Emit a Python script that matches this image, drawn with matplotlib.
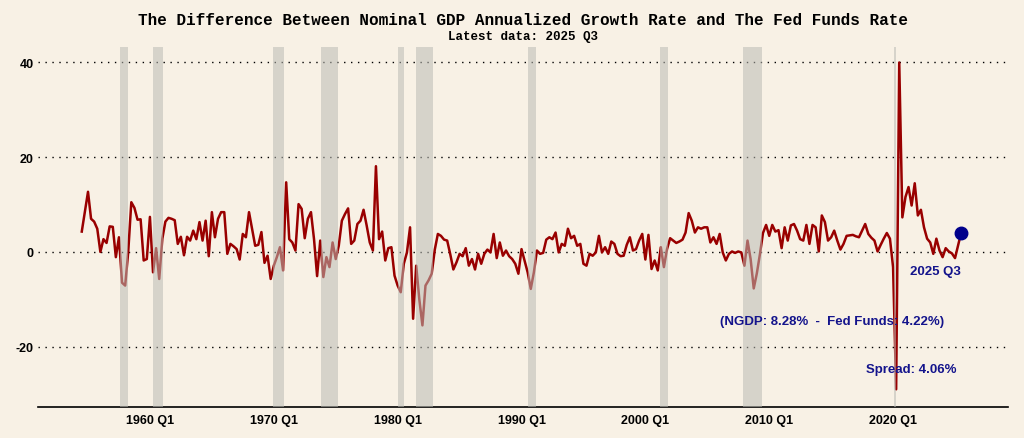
import pandas as pd
import matplotlib
matplotlib.use('Agg')
import matplotlib.pyplot as plt

# NGDP annualized growth minus fed funds rate, quarterly, 1954 Q3 .. 2025 Q3
first_quarter = '1954Q3'
last_quarter = '2025Q3'

spread_1950s = [4.3, 8.5, 12.7, 7.0, 6.4, 4.9, 0.0, 2.7, 1.9, 5.4, 5.3, -1.1, 3.1, -6.5,
                -7.1, 0.0, 10.5, 9.3, 6.8, 6.9, -1.8, -1.5]
spread_1960s = [7.4, -4.3, 0.8, -5.7, 2.8, 6.4, 7.2, 7.0, 6.7, 1.7,
                3.2, -0.7, 3.2, 2.4, 4.5, 2.7, 6.3, 2.4, 6.6, -0.9,
                8.4, 3.1, 7.0, 8.4, 8.4, -0.4, 1.7, 1.2, 0.6, -1.6,
                3.8, 3.1, 8.4, 4.9, 1.3, 1.5, 4.2, -2.3, -0.8, -5.7]
spread_1970s = [-2.9, -1.1, 1.0, -3.9, 14.7, 2.7, 2.0, 0.3, 10.1, 9.1,
                2.9, 7.0, 8.4, 2.7, -5.1, 2.4, -5.3, -1.1, -3.2, 2.0,
                -1.5, 1.3, 6.6, 8.0, 9.2, 1.7, 2.4, 5.9, 6.6, 8.9,
                5.6, 2.0, 0.3, 18.1, 2.7, 4.3, -1.8, 0.8, 1.0, -5.0]
spread_1980s = [-7.1, -8.5, -2.5, -0.1, 5.2, -14.1, -2.9, -10.0, -15.5, -7.1,
                -6.0, -4.6, 0.5, 3.8, 3.4, 2.6, 2.4, -0.5, -3.7, -2.2,
                -0.4, -0.9, 0.8, -2.9, -1.5, -3.7, -0.4, -2.5, -0.4, 0.5,
                -0.1, 3.8, -1.3, 2.0, -0.8, 0.3, -0.9, -1.5, -2.5, -4.6]
spread_1990s = [0.6, -1.8, -4.3, -7.8, -4.3, 0.3, -0.4, -0.2, 2.6, 3.1,
                2.7, 4.1, -0.1, 1.7, 1.3, 4.9, 2.9, 3.4, 1.3, 1.7,
                -2.5, -2.9, -0.4, -0.8, -0.1, 3.4, -0.1, 1.0, -0.4, 2.2,
                1.7, -0.4, -0.9, -0.8, 1.5, 3.1, 0.3, 0.6, 2.4, 3.8]
spread_2000s = [-1.6, 3.6, -3.6, -1.8, -3.9, 1.0, -3.2, 0.6, 2.9, 2.4,
                1.9, 2.2, 2.6, 4.1, 8.2, 6.6, 4.1, 5.2, 4.9, 5.2,
                5.2, 2.0, 3.1, 1.7, 3.8, -0.1, -1.8, -0.4, 0.1, -0.2,
                0.1, -0.1, -2.9, 2.4, -1.5, -7.7, -4.5, -0.5, 4.0, 5.7]
spread_2010s = [3.4, 5.7, 4.3, 4.6, 0.8, 5.2, 2.4, 5.6, 5.9, 4.5,
                2.7, 2.4, 5.7, 1.7, 5.7, 5.2, 0.1, 7.7, 6.3, 2.4,
                3.1, 4.5, 2.4, 0.5, 1.7, 3.4, 3.5, 3.6, 3.3, 3.1,
                4.5, 5.9, 3.8, 3.0, 2.4, 0.1, 1.5, 2.8, 4.0, 2.8]
spread_2020s = [-3.2, -29.0, 40.0, 7.3, 11.6, 13.7, 9.8, 14.5, 7.7, 8.9,
                5.2, 2.8, 2.0, -0.4, 2.8, 0.3, -1.1, 0.8, 0.1, -0.3,
                -1.3, 1.4, 4.06]

# NBER recessions (peak, trough)
recessions = [('1957-08-01', '1958-04-01'), ('1960-04-01', '1961-02-01'),
              ('1969-12-01', '1970-11-01'), ('1973-11-01', '1975-03-01'),
              ('1980-01-01', '1980-07-01'), ('1981-07-01', '1982-11-01'),
              ('1990-07-01', '1991-03-01'), ('2001-03-01', '2001-11-01'),
              ('2007-12-01', '2009-06-01'), ('2020-02-01', '2020-04-01')]

tick_years = [1960, 1970, 1980, 1990, 2000, 2010, 2020]
y_ticks = [-20, 0, 20, 40]

latest_label = '2025 Q3'
ngdp_latest = 8.28
fedfunds_latest = 4.22

spread = (spread_1950s + spread_1960s + spread_1970s + spread_1980s
          + spread_1990s + spread_2000s + spread_2010s + spread_2020s)
dates = pd.period_range(first_quarter, last_quarter, freq='Q').to_timestamp()

bg = '#F8F1E5'
navy = '#14148C'

fig = plt.figure(figsize=(10.24, 4.39), dpi=100, facecolor=bg)
ax = fig.add_axes([0.037, 0.071, 0.947, 0.82])
ax.set_facecolor(bg)

ax.plot(dates, spread, color='#990000', lw=1.8, zorder=2)
for start, end in recessions:
    ax.axvspan(pd.Timestamp(start), pd.Timestamp(end), color='#BBBBB4',
               alpha=0.55, lw=0, zorder=3)

ax.plot(dates[-1], spread[-1], 'o', color='#00008B', ms=9, zorder=5)

ax.annotate(latest_label, (dates[-1], spread[-1]), xytext=(-26, -38),
            textcoords='offset pixels', ha='center', va='center',
            color=navy, fontsize=9.5, fontweight='bold', family='Liberation Sans', zorder=6)
ax.annotate('(NGDP: %.2f%%  -  Fed Funds: %.2f%%)' % (ngdp_latest, fedfunds_latest),
            (dates[-1], spread[-1]), xytext=(-129, -88), textcoords='offset pixels',
            ha='center', va='center', color=navy, fontsize=9.5, fontweight='bold',
            family='Liberation Sans', zorder=6)
ax.annotate('Spread: %.2f%%' % spread[-1], (dates[-1], spread[-1]), xytext=(-50, -136),
            textcoords='offset pixels', ha='center', va='center', color=navy,
            fontsize=9.5, fontweight='bold', family='Liberation Sans', zorder=6)

ax.set_xlim(pd.Timestamp('1950-12-15'), pd.Timestamp('2029-04-01'))
ax.set_ylim(-32.7, 43.3)
ax.set_xticks([pd.Timestamp('%d-01-01' % y) for y in tick_years])
ax.set_xticklabels(['%d Q1' % y for y in tick_years])
ax.set_yticks(y_ticks)
ax.set_yticklabels([str(v) for v in y_ticks])
for lab in ax.get_xticklabels() + ax.get_yticklabels():
    lab.set_fontweight('bold')
    lab.set_fontsize(9)
    lab.set_family('Liberation Sans')
ax.tick_params(axis='both', length=0)
ax.tick_params(axis='x', pad=5)
ax.tick_params(axis='y', pad=3)

ax.grid(axis='y', color='black', linestyle=(0, (1, 4)), lw=1)
ax.grid(axis='x', visible=False)
for side in ['left', 'right', 'top']:
    ax.spines[side].set_visible(False)
ax.spines['bottom'].set_color('black')
ax.spines['bottom'].set_linewidth(1.2)

fig.text(0.511, 0.954, 'The Difference Between Nominal GDP Annualized Growth Rate and The Fed Funds Rate',
         ha='center', va='center', family='Liberation Mono', fontweight='bold', fontsize=11.5)
fig.text(0.511, 0.916, 'Latest data: ' + latest_label, ha='center', va='center',
         family='Liberation Mono', fontweight='bold', fontsize=9)

fig.savefig('out.png', dpi=100, facecolor=bg)
